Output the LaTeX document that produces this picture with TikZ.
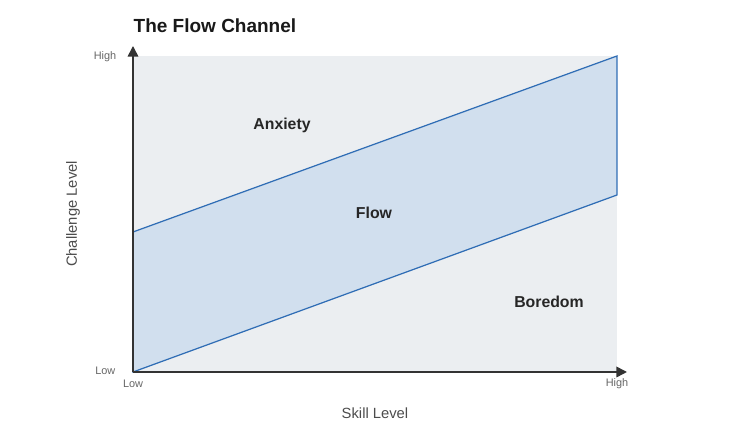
\documentclass[tikz,border=0pt]{standalone}
\usepackage{fontspec}
\setmainfont{Liberation Sans}
\usetikzlibrary{arrows.meta}
\definecolor{bgc}{HTML}{EBEEF1}
\definecolor{flowc}{HTML}{D1DFEE}
\definecolor{edgec}{HTML}{2F6DB5}
\definecolor{axc}{HTML}{333333}
\definecolor{tickc}{HTML}{666666}
\tikzset{
  tick/.style={font=\fontsize{3.1pt}{3.6pt}\selectfont, text=tickc, inner sep=0},
  region/.style={font=\bfseries\fontsize{4.5pt}{5pt}\selectfont, text=black!85, inner sep=0},
  axlabel/.style={font=\fontsize{4.2pt}{5pt}\selectfont, text=black!70, inner sep=0},
  axis/.style={draw=axc, line width=0.45pt, -{Triangle[length=3pt,width=3pt]}}
}
\begin{document}
\begin{tikzpicture}[x=0.01cm,y=-0.01cm]
\useasboundingbox (0,0) rectangle (750,446);
\fill[bgc] (133,56) rectangle (617,372);
\filldraw[fill=flowc, draw=edgec, line width=0.35pt] (133,232) -- (617,56) -- (617,195) -- (133,372) -- cycle;
\coordinate (o) at (133,372);
\coordinate (ytop) at (133,46);
\coordinate (xend) at (627,372);
\draw[axis] (o) -- (ytop);
\draw[axis] (o) -- (xend);
\node[anchor=west, inner sep=0, font=\bfseries\fontsize{5.4pt}{6pt}\selectfont, text=black!90] (title) at (133,26) {The Flow Channel};
\node[tick, anchor=east] (yh) at (117,57) {High};
\node[tick, anchor=east] (yl) at (116,371) {Low};
\node[tick] (xl) at (133,384) {Low};
\node[tick] (xh) at (617,384) {High};
\node[axlabel] (xlab) at (375,413) {Skill Level};
\node[axlabel, rotate=90] (ylab) at (73,214) {Challenge Level};
\node[region] (anx) at (282,125) {Anxiety};
\node[region] (flow) at (374,213) {Flow};
\node[region] (bor) at (549,302) {Boredom};
\end{tikzpicture}
\end{document}
